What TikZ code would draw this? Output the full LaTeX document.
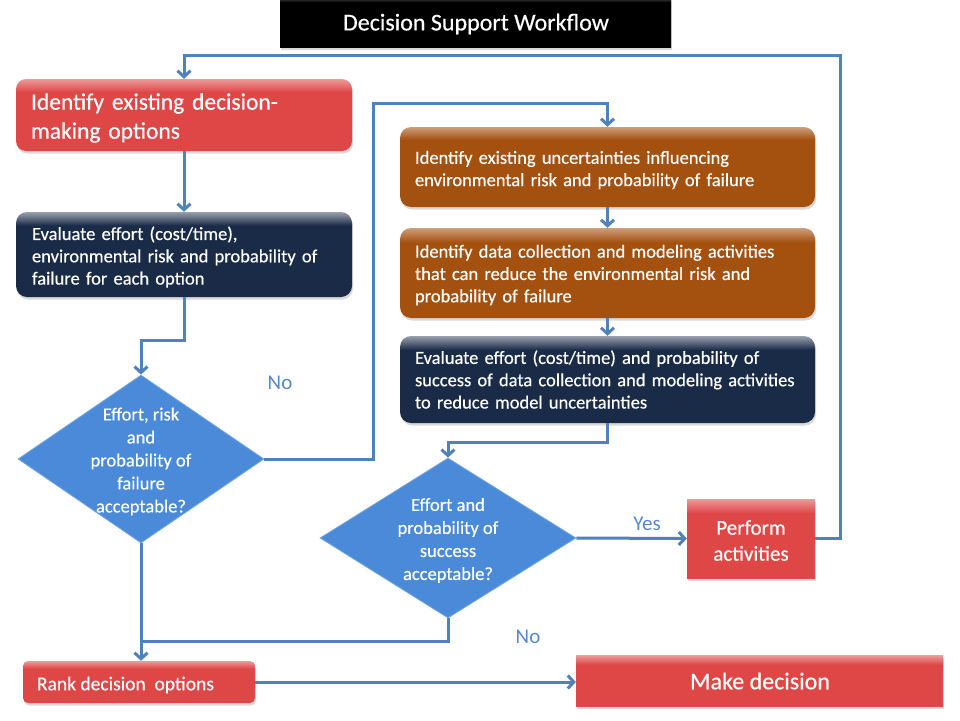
\documentclass[tikz,border=0pt]{standalone}
\usepackage{fontspec}
\setmainfont{Carlito}
\newfontfamily\wfont{Carlito}[FakeBold=0.45]
\usetikzlibrary{shapes.geometric,arrows.meta,shadows}
\definecolor{redc}{HTML}{DF4747}
\definecolor{navyc}{HTML}{1A2B48}
\definecolor{orangec}{HTML}{A4500F}
\definecolor{dbluec}{HTML}{4A8AD8}
\definecolor{linec}{HTML}{4F81BD}
\definecolor{lblc}{HTML}{5689CC}
\pgfdeclareverticalshading{glossR}{100bp}{color(0bp)=(redc); color(66bp)=(redc); color(75bp)=(redc!55!white); color(100bp)=(redc!55!white)}
\pgfdeclareverticalshading{glossN}{100bp}{color(0bp)=(navyc); color(67bp)=(navyc); color(75bp)=(navyc!45!white); color(100bp)=(navyc!45!white)}
\pgfdeclareverticalshading{glossO}{100bp}{color(0bp)=(orangec); color(67bp)=(orangec); color(75bp)=(orangec!55!white); color(100bp)=(orangec!55!white)}
\pgfdeclareverticalshading{glossK}{100bp}{color(0bp)=(black); color(68bp)=(black); color(75bp)=(black!55!white); color(100bp)=(black!55!white)}
\begin{document}
\begin{tikzpicture}[x=1pt,y=-1pt,
  shad/.style={drop shadow={opacity=0.3, shadow xshift=1pt, shadow yshift=-2.5pt}},
  redround/.style={shad, shading=glossR, rounded corners=10pt, inner sep=0pt},
  navybox/.style={shad, shading=glossN, rounded corners=11pt, inner sep=0pt},
  orangebox/.style={shad, shading=glossO, rounded corners=11pt, inner sep=0pt},
  redsharp/.style={shad, shading=glossR, inner sep=0pt},
  txt/.style={text=white, align=left, inner sep=0pt, anchor=west, font=\wfont\fontsize{18.5}{22.3}\selectfont},
  ctxt/.style={text=white, align=center, inner sep=0pt},
  diam/.style={diamond, inner sep=0pt, fill=dbluec, draw=dbluec!75!white, line width=0.8pt},
  dtext/.style={ctxt, font=\wfont\fontsize{18.5}{23}\selectfont},
  conn/.style={draw=linec, line width=3pt, -{Straight Barb[length=6pt,width=13pt]}},
  plain/.style={draw=linec, line width=3pt},
  lbl/.style={text=lblc, font=\fontsize{21}{24}\selectfont}
]
\useasboundingbox (0,0) rectangle (960,720);

% title
\node[shad, shading=glossK, minimum width=391pt, minimum height=52pt, inner sep=0pt] (T) at (475.5,21) {};
\node[ctxt, font=\wfont\fontsize{24}{28}\selectfont] (Tt) at (476,24) {Decision Support Workflow};

% left column
\node[redround, minimum width=336pt, minimum height=72pt] (A) at (184,115) {};
\node[txt, text width=306pt, font=\wfont\fontsize{23.5}{29}\selectfont] (At) at ([xshift=15pt,yshift=-3pt]A.west)
  {Identify existing decision-\\making options};
\node[navybox, minimum width=336pt, minimum height=85pt] (B) at (184,254.5) {};
\node[txt, text width=304pt] (Bt) at ([xshift=16pt,yshift=-2.5pt]B.west)
  {Evaluate effort (cost/time),\\environmental risk and probability of\\failure for each option};
\node[diam, minimum width=246pt, minimum height=168pt] (D1) at (141,459) {};
\node[dtext] (D1t) at (141,461.5) {Effort, risk\\and\\probability of\\failure\\acceptable?};

% right column
\node[orangebox, minimum width=415pt, minimum height=80pt] (C) at (607.5,167) {};
\node[txt, text width=385pt] (Ct) at ([xshift=15pt,yshift=-3pt]C.west)
  {Identify existing uncertainties influencing\\environmental risk and probability of failure};
\node[orangebox, minimum width=415pt, minimum height=90pt] (D) at (607.5,273) {};
\node[txt, text width=385pt] (Dt) at ([xshift=15pt,yshift=-2pt]D.west)
  {Identify data collection and modeling activities\\that can reduce the environmental risk and\\probability of failure};
\node[navybox, minimum width=415pt, minimum height=87pt] (E) at (607.5,379.5) {};
\node[txt, text width=385pt] (Et) at ([xshift=15pt,yshift=0pt]E.west)
  {Evaluate effort (cost/time) and probability of\\success of data collection and modeling activities\\to reduce model uncertainties};
\node[diam, minimum width=256pt, minimum height=160pt] (D2) at (448,538) {};
\node[dtext] (D2t) at (448,540.5) {Effort and\\probability of\\success\\acceptable?};
\node[redsharp, minimum width=128pt, minimum height=79pt] (P) at (751,538.5) {};
\node[ctxt, font=\wfont\fontsize{21}{26}\selectfont] (Pt) at (751,540.5) {Perform\\activities};

% bottom row
\node[redround, rounded corners=5pt, minimum width=232pt, minimum height=42pt] (R) at (139,682) {};
\node[txt, font=\wfont\fontsize{19.5}{23}\selectfont] (Rt) at ([xshift=14pt,yshift=-3pt]R.west) {Rank decision\ \ options};
\node[redsharp, minimum width=367pt, minimum height=51pt] (M) at (759.5,681) {};
\node[ctxt, font=\wfont\fontsize{24}{28}\selectfont] (Mt) at (760,681) {Make decision};

% helper coordinates
\coordinate (nA) at (373,103);
\coordinate (top) at (840,55);
\coordinate (j) at (141,641);

% connectors
\draw[conn] (A.south) -- (B.north);
\draw[conn] (B.south) -- ++(0,43) -| (D1.north);
\draw[conn] (D1.east) -| (nA) -| (C.north);
\draw[conn] (C.south) -- (D.north);
\draw[conn] (D.south) -- (E.north);
\draw[conn] (E.south) -- ++(0,19) -| (D2.north);
\draw[conn] (D2.east) -- (P.west);
\draw[conn] (P.east) -| (top) -| (A.north);
\draw[conn] (D1.south) -- (D1.south |- R.north);
\draw[plain] (D2.south) |- (j);
\draw[conn] (R.east) -- (R.east -| M.west);

% labels
\node[lbl] (no1) at (280,383) {No};
\node[lbl] (no2) at (528,637) {No};
\node[lbl] (yes) at (647,524) {Yes};
\end{tikzpicture}
\end{document}
